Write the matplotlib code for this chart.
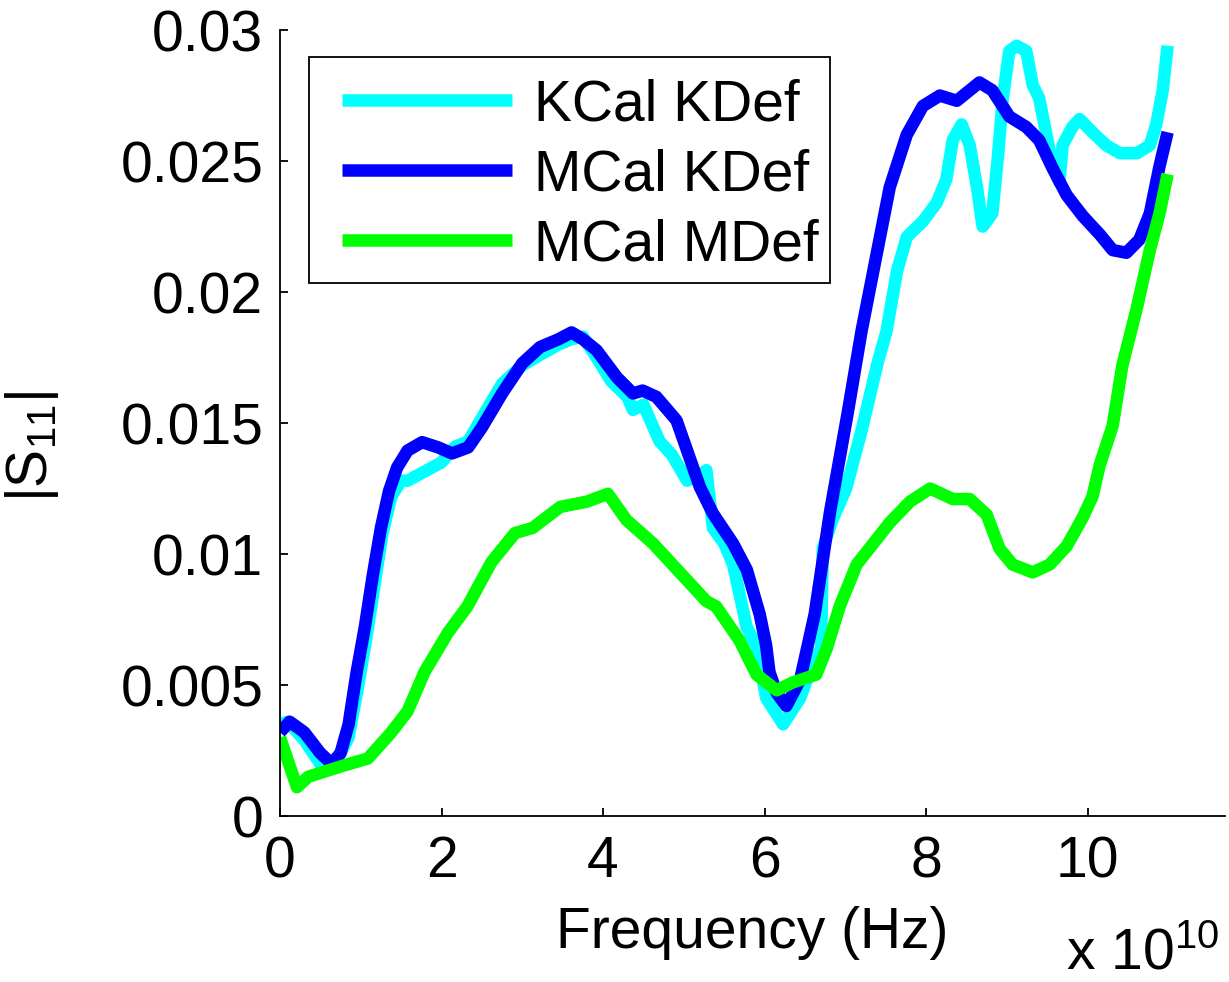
import matplotlib
matplotlib.use("Agg")
import matplotlib.pyplot as plt
from matplotlib.patches import Rectangle

plt.rcParams['font.family'] = ['Liberation Sans', 'DejaVu Sans']
plt.rcParams['mathtext.fontset'] = 'custom'
plt.rcParams['mathtext.rm'] = 'Liberation Sans'
plt.rcParams['mathtext.it'] = 'Liberation Sans'

# frequencies in units of 1e10 Hz, |S11| linear
kcal_kdef_f = [0, 0.1, 0.3, 0.52, 0.7, 0.85, 0.97, 1.07, 1.17, 1.27, 1.38, 1.5, 1.58, 1.76,
               2.0, 2.17, 2.33, 2.5, 2.75, 3.0, 3.22, 3.45, 3.61, 3.75, 3.92, 4.1, 4.3,
               4.37, 4.5, 4.7, 4.85, 5.04, 5.2, 5.28, 5.36, 5.5, 5.61, 5.78, 5.9, 6.02,
               6.23, 6.44, 6.62, 6.70, 6.72, 6.84, 7.01, 7.2, 7.4, 7.51, 7.64, 7.76, 7.96,
               8.13, 8.25, 8.33, 8.44, 8.54, 8.63, 8.7, 8.82, 8.89, 8.95, 9.03, 9.12, 9.24,
               9.32, 9.4, 9.49, 9.57, 9.65, 9.69, 9.81, 9.9, 10.06, 10.23, 10.4, 10.61,
               10.77, 10.85, 10.93, 10.99]
kcal_kdef_s = [0.0035, 0.0036, 0.0029, 0.0019, 0.0021, 0.0030, 0.0050, 0.0068, 0.0088,
               0.0108, 0.0122, 0.0128, 0.0128, 0.0131, 0.0135, 0.0141, 0.0143, 0.0152,
               0.0165, 0.0172, 0.0176, 0.0180, 0.0182, 0.0183, 0.0175, 0.0166, 0.0160,
               0.0155, 0.0157, 0.0143, 0.0138, 0.0128, 0.0130, 0.0132, 0.0110, 0.0104,
               0.0096, 0.0072, 0.0065, 0.0045, 0.0035, 0.0045, 0.0060, 0.0064, 0.0102,
               0.0113, 0.0125, 0.0147, 0.0173, 0.0185, 0.0208, 0.0221, 0.0227, 0.0234,
               0.0243, 0.0258, 0.0264, 0.0256, 0.0240, 0.0225, 0.0230, 0.0252, 0.0274,
               0.0292, 0.0294, 0.0292, 0.0279, 0.0274, 0.0260, 0.0248, 0.0242, 0.0256,
               0.0263, 0.0266, 0.0261, 0.0256, 0.0253, 0.0253, 0.0256, 0.0264, 0.0277,
               0.0294]

mcal_kdef_f = [0, 0.12, 0.3, 0.5, 0.64, 0.75, 0.85, 0.95, 1.05, 1.15, 1.25, 1.35, 1.45,
               1.58, 1.76, 1.96, 2.13, 2.33, 2.5, 2.75, 3.0, 3.22, 3.45, 3.61, 3.75, 3.92,
               4.17, 4.37, 4.49, 4.66, 4.91, 5.04, 5.2, 5.36, 5.61, 5.78, 5.94, 6.02, 6.06,
               6.15, 6.27, 6.44, 6.62, 6.81, 7.03, 7.2, 7.34, 7.55, 7.76, 7.96, 8.17, 8.38,
               8.66, 8.82, 9.03, 9.24, 9.4, 9.57, 9.74, 9.94, 10.15, 10.31, 10.48, 10.64,
               10.77, 10.89, 10.99]
mcal_kdef_s = [0.0032, 0.0036, 0.0032, 0.0024, 0.0020, 0.0024, 0.0035, 0.0055, 0.0072,
               0.0092, 0.0110, 0.0124, 0.0133, 0.01395, 0.01427, 0.01407, 0.01384,
               0.01407, 0.01483, 0.01613, 0.01728, 0.0179, 0.0182, 0.01846, 0.0182,
               0.01778, 0.01675, 0.01613, 0.01624, 0.0160, 0.0151, 0.01396, 0.01255,
               0.01155, 0.0104, 0.0094, 0.0077, 0.0065, 0.0055, 0.0047, 0.0042, 0.0052,
               0.0077, 0.0116, 0.0154, 0.0185, 0.0207, 0.0240, 0.0260, 0.0271, 0.0275,
               0.0273, 0.0280, 0.0277, 0.0267, 0.0263, 0.0258, 0.0247, 0.0237, 0.0229,
               0.0222, 0.0216, 0.0215, 0.0220, 0.0230, 0.0248, 0.0261]

mcal_mdef_f = [0, 0.21, 0.35, 0.76, 1.09, 1.38, 1.58, 1.79, 2.08, 2.32, 2.62, 2.91, 3.13,
               3.47, 3.8, 4.06, 4.29, 4.62, 4.95, 5.28, 5.4, 5.69, 5.9, 6.15, 6.35, 6.64,
               6.77, 6.93, 7.14, 7.55, 7.8, 8.05, 8.33, 8.54, 8.75, 8.91, 9.07, 9.32, 9.53,
               9.74, 9.94, 10.06, 10.15, 10.31, 10.43, 10.61, 10.77, 10.89, 10.99]
mcal_mdef_s = [0.0030, 0.0011, 0.0015, 0.0019, 0.0022, 0.0032, 0.0040, 0.0055, 0.0070,
               0.0080, 0.0097, 0.0108, 0.0110, 0.0118, 0.0120, 0.0123, 0.0113, 0.0104,
               0.0093, 0.0082, 0.0080, 0.0067, 0.0054, 0.0048, 0.0051, 0.0054, 0.0064,
               0.0080, 0.0096, 0.0112, 0.0120, 0.0125, 0.0121, 0.0121, 0.0115, 0.0102,
               0.0096, 0.0093, 0.0096, 0.0103, 0.0114, 0.0122, 0.0134, 0.0149, 0.0172,
               0.0194, 0.0216, 0.0230, 0.0245]

labels = ['KCal KDef', 'MCal KDef', 'MCal MDef']
colors = ['#00ffff', '#0000ff', '#00ff00']

xticks = [0, 2, 4, 6, 8, 10]
yticks = [0, 0.005, 0.01, 0.015, 0.02, 0.025, 0.03]
yticklabels = ['0', '0.005', '0.01', '0.015', '0.02', '0.025', '0.03']

fig = plt.figure(figsize=(12.29, 9.82), dpi=100)
ax = fig.add_axes([0.2278, 0.169, 0.7689, 0.8004])

series = [(kcal_kdef_f, kcal_kdef_s), (mcal_kdef_f, mcal_kdef_s), (mcal_mdef_f, mcal_mdef_s)]
for (f, s), lab, c in zip(series, labels, colors):
    ax.plot([v * 1e10 for v in f], s, color=c, lw=9, label=lab,
            solid_joinstyle='round', solid_capstyle='butt')

ax.set_xlim(0, 11.7e10)
ax.set_ylim(0, 0.03)
ax.set_xticks([t * 1e10 for t in xticks])
ax.set_xticklabels([str(t) for t in xticks])
ax.set_yticks(yticks)
ax.set_yticklabels(yticklabels)

for side in ['top', 'right']:
    ax.spines[side].set_visible(False)
for side in ['left', 'bottom']:
    ax.spines[side].set_linewidth(1.3)
ax.tick_params(direction='in', length=6, width=1.3, labelsize=41)
ax.tick_params(axis='x', pad=14)
ax.tick_params(axis='y', pad=12)

ax.set_xlabel('Frequency (Hz)', fontsize=41, labelpad=12)
ax.set_ylabel('|S$_{11}$|', fontsize=41)
ax.yaxis.set_label_coords(-0.232, 0.47)
ax.text(0.994, -0.195, r'x 10$^{10}$', transform=ax.transAxes, ha='right',
        va='baseline', fontsize=41)

# legend box drawn separately (MATLAB style: wider side padding than top/bottom)
ax.add_patch(Rectangle((0.0307, 0.678), 0.5513, 0.2876, transform=ax.transAxes,
                       facecolor='white', edgecolor='black', lw=1.3, zorder=4))
leg = ax.legend(loc='upper left', bbox_to_anchor=(0.0655, 0.9385),
                borderaxespad=0, borderpad=0, fontsize=41, handlelength=2.98,
                handletextpad=0.39, labelspacing=0.28, frameon=False)
leg.set_zorder(5)

fig.savefig('out.png', dpi=100)
